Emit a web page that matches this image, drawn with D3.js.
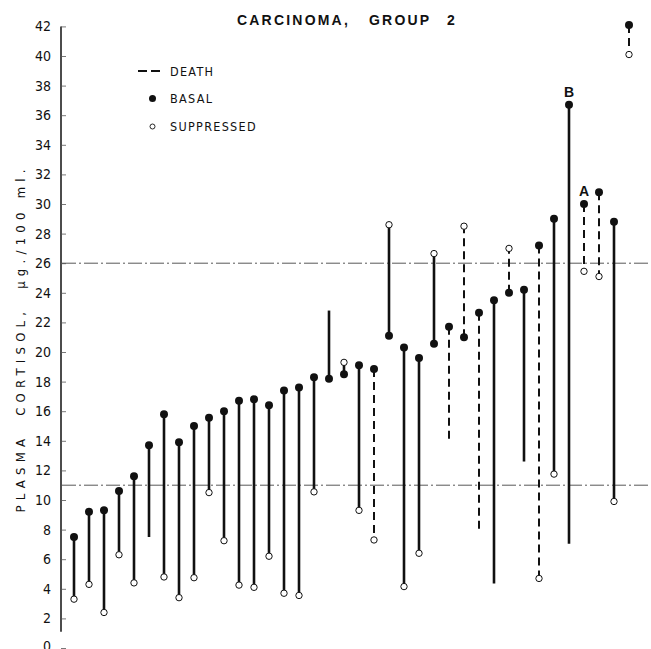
<!DOCTYPE html>
<html>
<head>
<meta charset="utf-8">
<script src="https://cdn.jsdelivr.net/npm/d3@7"></script>
<style>
	body { margin: 0; background: #fff; }
	svg { display: block; }
	text { fill: #111; }
</style>
</head>
<body>
<div id="chart"></div>
<script>

// Patients, ordered as in the figure (left to right)
var basal = [7.5, 9.2, 9.3, 10.6, 11.6, 13.7, 15.8, 13.9, 15.0, 15.55,
	16.0, 16.7, 16.8, 16.4, 17.4, 17.6, 18.3, 18.2, 18.5, 19.1,
	18.85, 21.1, 20.3, 19.6, 20.55, 21.7, 21.0, 22.65, 23.5, 24.0,
	24.2, 27.2, 29.0, 36.7, 30.0, 30.8, 28.8, 42.1];
var suppressed = [3.3, 4.3, 2.4, 6.3, 4.4, 7.5, 4.8, 3.4, 4.75, 10.5,
	7.25, 4.25, 4.1, 6.2, 3.7, 3.55, 10.55, 22.8, 19.3, 9.3,
	7.3, 28.6, 4.15, 6.4, 26.65, 14.1, 28.5, 8.0, 4.35, 27.0,
	12.6, 4.7, 11.75, 7.05, 25.45, 25.1, 9.9, 40.1];
// 1 = patient died (dashed line)
var death = [0, 0, 0, 0, 0, 0, 0, 0, 0, 0,
	0, 0, 0, 0, 0, 0, 0, 0, 0, 0,
	1, 0, 0, 0, 0, 1, 1, 1, 0, 1,
	0, 1, 0, 0, 1, 1, 0, 1];
// suppressed value drawn with an open circle
var suppMarked = [1, 1, 1, 1, 1, 0, 1, 1, 1, 1,
	1, 1, 1, 1, 1, 1, 1, 0, 1, 1,
	1, 1, 1, 1, 1, 0, 1, 0, 0, 1,
	0, 1, 1, 0, 1, 1, 1, 1];
var notes = [{i: 33, label: "B"}, {i: 34, label: "A"}];
var yTicks = d3.range(0, 43, 2);
var refLines = [26, 11];
var titleWords = [{t: "CARCINOMA,", x: 237}, {t: "GROUP", x: 369}, {t: "2", x: 447}];

function makeChart() {
	var width = 651, height = 649;

	var svg = d3.select("#chart").append("svg")
		.attr("width", width).attr("height", height);

	var x = d3.scaleLinear().domain([0, basal.length - 1]).range([74, 629]);
	var y = d3.scaleLinear().domain([0, 42]).range([648, 26.4]);

	var font = "'Liberation Sans Narrow', 'DejaVu Sans Condensed', 'Liberation Sans', sans-serif";

	// title
	svg.append("text")
		.attr("y", 25)
		.style("font-family", "'Liberation Sans', Arial, sans-serif")
		.style("font-weight", "bold")
		.style("font-size", "14px")
		.style("letter-spacing", "2.2px")
		.selectAll("tspan")
		.data(titleWords).enter()
		.append("tspan")
		.attr("x", d => d.x)
		.text(d => d.t);

	// y axis
	var axis = d3.axisRight(y).tickValues(yTicks).tickSize(5).tickFormat("");
	var gAxis = svg.append("g").attr("transform", "translate(61,0)").call(axis);
	gAxis.select(".domain").attr("d", "M0," + y(42) + "V" + y(1.1))
		.attr("stroke", "#111").attr("stroke-width", 1.5);
	gAxis.selectAll(".tick line").attr("stroke", "#555").attr("stroke-width", 0.8);

	svg.append("g").selectAll("text.ylab")
		.data(yTicks).enter()
		.append("text").attr("class", "ylab")
		.attr("x", 51).attr("y", d => Math.min(y(d) + 5, 651))
		.attr("text-anchor", "end")
		.style("font-family", font)
		.style("font-size", "14px")
		.text(d => d);

	// y title
	svg.append("text")
		.attr("transform", "translate(25,341)rotate(-90)")
		.attr("text-anchor", "middle")
		.attr("textLength", 343)
		.attr("lengthAdjust", "spacing")
		.style("font-family", font)
		.style("font-size", "13px")
		.attr("fill", "#333")
		.attr("xml:space", "preserve")
		.text("PLASMA  CORTISOL,  \u03bcg./100 ml.");

	// reference lines
	svg.append("g").selectAll("line.ref")
		.data(refLines).enter()
		.append("line").attr("class", "ref")
		.attr("x1", 62).attr("x2", width)
		.attr("y1", d => y(d)).attr("y2", d => y(d))
		.attr("stroke", "#444").attr("stroke-width", 0.9)
		.attr("stroke-dasharray", "14,3,2,3");

	// patients
	var idx = d3.range(basal.length);
	var g = svg.append("g");

	g.selectAll("line.pair")
		.data(idx).enter()
		.append("line").attr("class", "pair")
		.attr("x1", i => x(i)).attr("x2", i => x(i))
		.attr("y1", i => y(basal[i])).attr("y2", i => y(suppressed[i]))
		.attr("stroke", "#111")
		.attr("stroke-width", i => death[i] ? 2 : 2.6)
		.attr("stroke-dasharray", i => death[i] ? "8,5" : null);

	g.selectAll("circle.supp")
		.data(idx.filter(i => suppMarked[i])).enter()
		.append("circle").attr("class", "supp")
		.attr("cx", i => x(i)).attr("cy", i => y(suppressed[i]))
		.attr("r", 3.2)
		.attr("fill", "#fff").attr("stroke", "#111").attr("stroke-width", 1);

	g.selectAll("circle.basal")
		.data(idx).enter()
		.append("circle").attr("class", "basal")
		.attr("cx", i => x(i)).attr("cy", i => y(basal[i]))
		.attr("r", 4)
		.attr("fill", "#111");

	g.selectAll("text.note")
		.data(notes).enter()
		.append("text").attr("class", "note")
		.attr("x", d => x(d.i)).attr("y", d => y(basal[d.i]) - 8)
		.attr("text-anchor", "middle")
		.style("font-family", "'Liberation Sans', Arial, sans-serif")
		.style("font-weight", "bold")
		.style("font-size", "14px")
		.text(d => d.label);

	// legend
	var lg = svg.append("g").style("font-family", font)
		.style("font-size", "12.5px").style("letter-spacing", "1.3px");
	lg.append("line").attr("x1", 138).attr("x2", 163)
		.attr("y1", 71).attr("y2", 71)
		.attr("stroke", "#111").attr("stroke-width", 2).attr("stroke-dasharray", "9,4");
	lg.append("circle").attr("cx", 152.5).attr("cy", 98.5).attr("r", 3.5).attr("fill", "#111");
	lg.append("circle").attr("cx", 152.5).attr("cy", 126.5).attr("r", 2.5)
		.attr("fill", "#fff").attr("stroke", "#111").attr("stroke-width", 0.9);
	lg.append("text").attr("x", 170).attr("y", 76).text("DEATH");
	lg.append("text").attr("x", 170).attr("y", 103).text("BASAL");
	lg.append("text").attr("x", 170).attr("y", 131).text("SUPPRESSED");
}

window.addEventListener('DOMContentLoaded', makeChart)
</script>
</body>
</html>
